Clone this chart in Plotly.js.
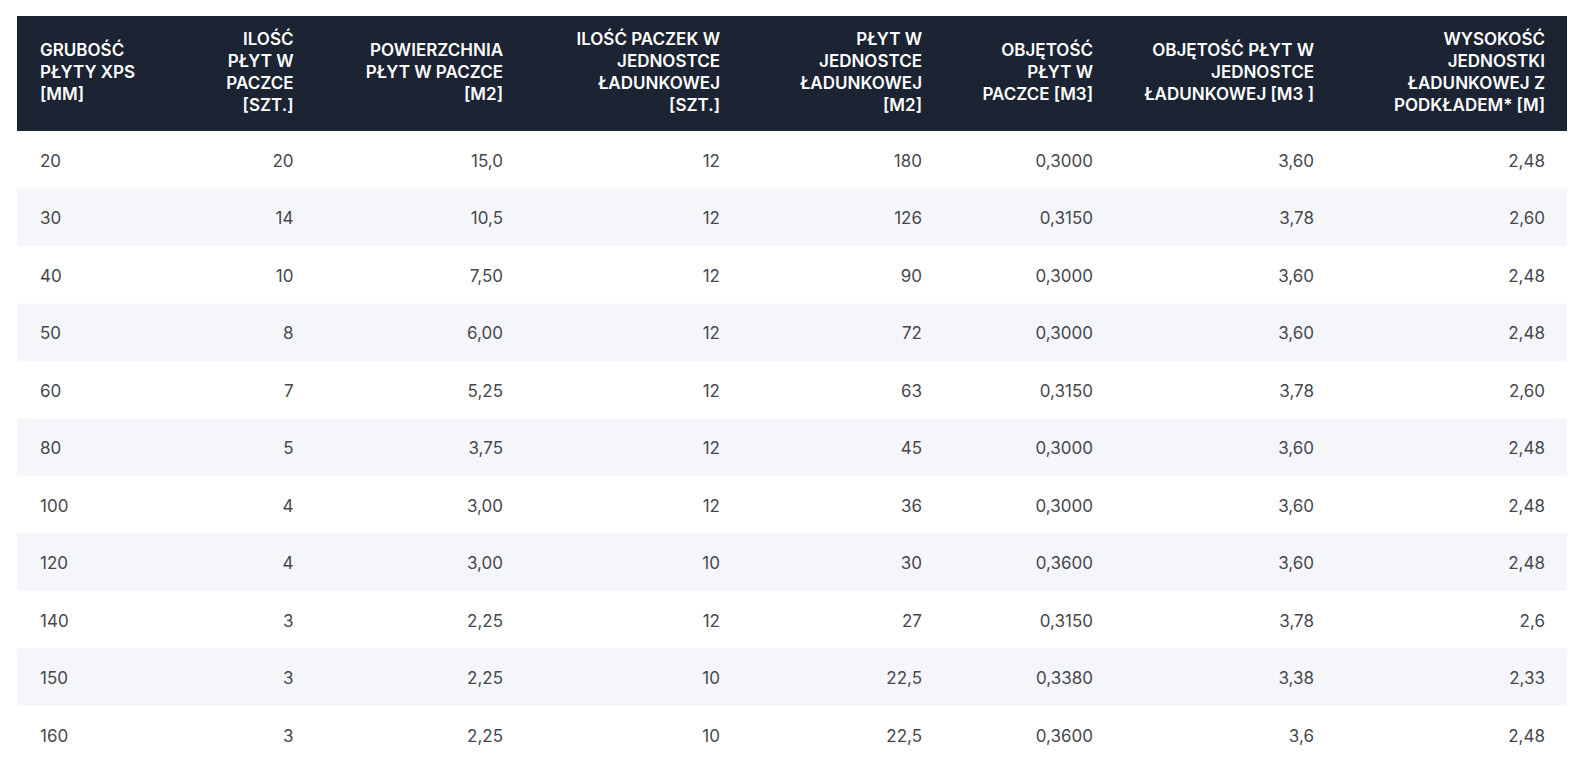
<!DOCTYPE html>
<html>
<head>
<meta charset="utf-8">
<script src="https://cdn.plot.ly/plotly-3.0.1.min.js"></script>
<style>
  html, body { margin: 0; padding: 0; background: #ffffff; }
  #chart { width: 1582px; height: 783px; }
</style>
</head>
<body>
<div id="chart"></div>
<script>
var headerLines = [
  ["GRUBOŚĆ", "PŁYTY XPS", "[MM]"],
  ["ILOŚĆ", "PŁYT W", "PACZCE", "[SZT.]"],
  ["POWIERZCHNIA", "PŁYT W PACZCE", "[M2]"],
  ["ILOŚĆ PACZEK W", "JEDNOSTCE", "ŁADUNKOWEJ", "[SZT.]"],
  ["PŁYT W", "JEDNOSTCE", "ŁADUNKOWEJ", "[M2]"],
  ["OBJĘTOŚĆ", "PŁYT W", "PACZCE [M3]"],
  ["OBJĘTOŚĆ PŁYT W", "JEDNOSTCE", "ŁADUNKOWEJ [M3 ]"],
  ["WYSOKOŚĆ", "JEDNOSTKI", "ŁADUNKOWEJ Z", "PODKŁADEM* [M]"]
];
var thickness     = ["20","30","40","50","60","80","100","120","140","150","160"];
var platesPerPack = ["20","14","10","8","7","5","4","4","3","3","3"];
var areaPerPack   = ["15,0","10,5","7,50","6,00","5,25","3,75","3,00","3,00","2,25","2,25","2,25"];
var packsPerUnit  = ["12","12","12","12","12","12","12","10","12","10","10"];
var areaPerUnit   = ["180","126","90","72","63","45","36","30","27","22,5","22,5"];
var volPerPack    = ["0,3000","0,3150","0,3000","0,3000","0,3150","0,3000","0,3000","0,3600","0,3150","0,3380","0,3600"];
var volPerUnit    = ["3,60","3,78","3,60","3,60","3,78","3,60","3,60","3,60","3,78","3,38","3,6"];
var unitHeight    = ["2,48","2,60","2,48","2,48","2,60","2,48","2,48","2,48","2,6","2,33","2,48"];

// ---- Layout constants (pixels) ----
var W = 1582, H = 783;
var bandLeft = 17, bandRight = 1567;
var headTop = 16, headBottom = 131;
var rowH = 57.5;
var tableLeft = 32, tableRight = 1553;
var colWidths = [128, 141.5, 209.5, 217, 202, 171, 221, 231];
var headFont = 17, cellFont = 17;
var halfLine = 11.05;           // header sub-row height (half a text line)
var headSubRows = 11;           // header sub-rows (lines centred vertically)
var tableTop = 24.4;

function px(x) { return x / W; }
function py(y) { return 1 - y / H; }

// Header: every text line gets its own header sub-row so each line is right-aligned
// and the 3- and 4-line headings are vertically centred like in the reference.
var headerValues = headerLines.map(function (lines) {
  var col = [];
  for (var k = 0; k < headSubRows; k++) col.push('');
  var start = 4 - lines.length;
  lines.forEach(function (t, j) { col[start + 2 * j] = t.replace(/ /g, '\u00a0'); });
  return col;
});

var nRows = thickness.length;
var shapes = [{
  type: 'rect', xref: 'paper', yref: 'paper', layer: 'below',
  x0: px(bandLeft), x1: px(bandRight), y0: py(headBottom), y1: py(headTop),
  fillcolor: '#1c2333', line: { width: 0 }
}];
for (var i = 0; i < nRows; i++) {
  if (i % 2 === 1) {
    shapes.push({
      type: 'rect', xref: 'paper', yref: 'paper', layer: 'below',
      x0: px(bandLeft), x1: px(bandRight),
      y0: py(headBottom + (i + 1) * rowH), y1: py(headBottom + i * rowH),
      fillcolor: '#f5f6f9', line: { width: 0 }
    });
  }
}

var aligns = ['left', 'right', 'right', 'right', 'right', 'right', 'right', 'right'];
var tableBottom = Math.min(H, tableTop + headSubRows * halfLine + nRows * rowH + 4);

var trace = {
  type: 'table',
  domain: { x: [px(tableLeft), px(tableRight)], y: [py(tableBottom), py(tableTop)] },
  columnwidth: colWidths,
  header: {
    values: headerValues,
    align: aligns,
    height: halfLine,
    fill: { color: 'rgba(0,0,0,0)' },
    line: { color: 'rgba(0,0,0,0)', width: 0 },
    font: { family: 'Inter, "Noto Sans", sans-serif', size: headFont, color: '#ffffff', weight: 600 }
  },
  cells: {
    values: [thickness, platesPerPack, areaPerPack, packsPerUnit, areaPerUnit, volPerPack, volPerUnit, unitHeight],
    align: aligns,
    height: rowH,
    fill: { color: 'rgba(0,0,0,0)' },
    line: { color: 'rgba(0,0,0,0)', width: 0 },
    font: { family: 'Inter, "Noto Sans", sans-serif', size: cellFont, color: '#46484d' }
  }
};

var layout = {
  width: W, height: H,
  margin: { l: 0, r: 0, t: 0, b: 0 },
  paper_bgcolor: '#ffffff',
  plot_bgcolor: '#ffffff',
  shapes: shapes,
  showlegend: false
};

Plotly.newPlot('chart', [trace], layout, { displayModeBar: false, staticPlot: true });
</script>
</body>
</html>
